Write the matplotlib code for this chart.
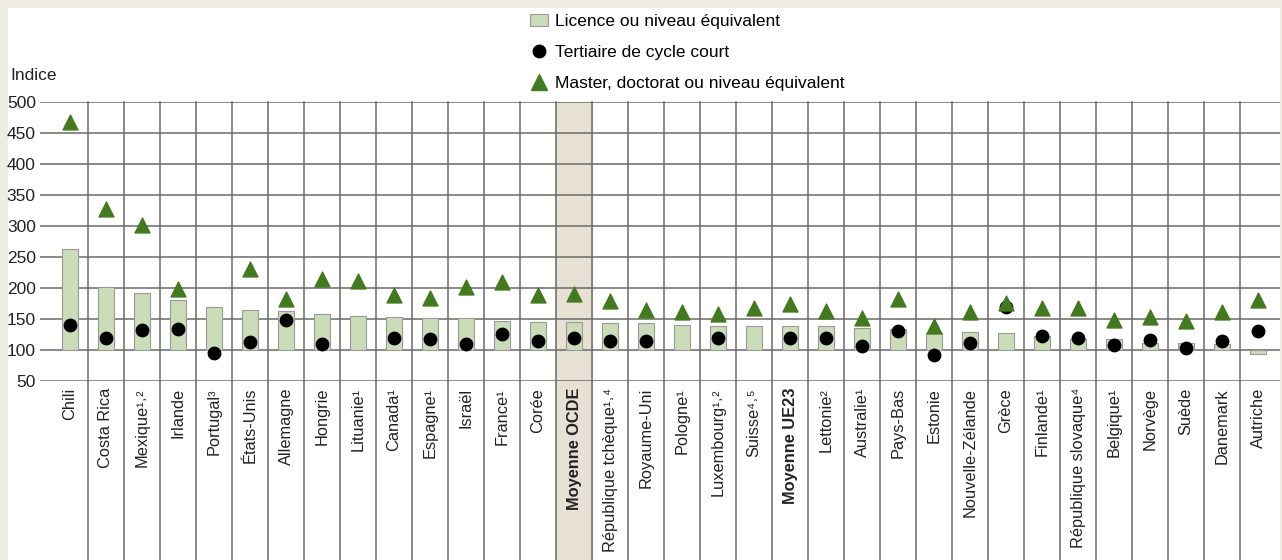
import matplotlib
matplotlib.use("Agg")
import matplotlib.pyplot as plt
from matplotlib.lines import Line2D
from matplotlib.patches import Patch

plt.rcParams['font.family'] = ['Liberation Sans Narrow', 'Liberation Sans', 'DejaVu Sans']
plt.rcParams['font.size'] = 12

# Data (indice, deuxième cycle du secondaire = 100)
pays = ["Chili", "Costa Rica", "Mexique¹˒²", "Irlande", "Portugal³", "États-Unis",
        "Allemagne", "Hongrie", "Lituanie¹", "Canada¹", "Espagne¹", "Israël",
        "France¹", "Corée", "Moyenne OCDE", "République tchèque¹˒⁴", "Royaume-Uni",
        "Pologne¹", "Luxembourg¹˒²", "Suisse⁴˒⁵", "Moyenne UE23", "Lettonie²",
        "Australie¹", "Pays-Bas", "Estonie", "Nouvelle-Zélande", "Grèce",
        "Finlande¹", "République slovaque⁴", "Belgique¹", "Norvège", "Suède",
        "Danemark", "Autriche"]
licence = [263, 201, 192, 181, 169, 164, 163, 158, 155, 153, 152, 152,
           147, 145, 145, 143, 143, 140, 139, 139, 139, 138,
           136, 134, 127, 129, 128, 122, 118, 118, 112, 111, 110, 94]
cycle_court = [140, 119, 132, 134, 95, 113, 149, 110, None, 119, 117, 110,
               126, 115, 119, 114, 114, None, 120, None, 119, 119,
               107, 131, 92, 112, 170, 123, 119, 108, 116, 103, 115, 131]
master = [468, 328, 301, 199, None, 230, 182, 215, 211, 189, 184, 201,
          209, 188, 190, 179, 164, 161, 158, 167, 174, 163,
          152, 182, 139, 161, 176, 167, 168, 149, 153, 146, 161, 180]
bold_labels = ["Moyenne OCDE", "Moyenne UE23"]
highlight = "Moyenne OCDE"

bar_color = "#cadcb8"
tri_color = "#447a1f"
grid_color = "#6a6a6a"

fig = plt.figure(figsize=(12.82, 5.60), dpi=100, facecolor="#eeebe1")
# white panel
panel = plt.Rectangle((8 / 1282, 0), 1272 / 1282, 552 / 560,
                      transform=fig.transFigure, facecolor="white",
                      edgecolor="none", zorder=-10)
fig.patches.append(panel)

ax = fig.add_axes([40 / 1282, 179 / 560, 1240 / 1282, 279 / 560])
ax.set_facecolor("none")
x = list(range(len(pays)))
ext = -179 / 279

hi = pays.index(highlight)
ax.axvspan(hi - 0.5, hi + 0.5, ymin=ext, ymax=1, color="#e7e1d3", zorder=0, clip_on=False)

for i in x[:-1]:
    ax.axvline(i + 0.5, ymin=ext, ymax=1, color=grid_color, lw=1.1, zorder=1, clip_on=False)

ax.set_ylim(50, 500)
ax.set_xlim(-0.833, 33.61)
ax.set_yticks(range(50, 501, 50))
ax.yaxis.grid(True, color=grid_color, lw=1.1, zorder=1)
ax.set_axisbelow(True)
for s in ax.spines.values():
    s.set_visible(False)
ax.tick_params(axis="y", length=0, pad=3, labelsize=12.5, colors="#222222")

ax.bar(x, [v - 100 for v in licence], bottom=100, width=0.44, color=bar_color,
       edgecolor="#9a9a9a", lw=0.8, zorder=2)
cx = [i for i, v in zip(x, cycle_court) if v is not None]
cy = [v for v in cycle_court if v is not None]
ax.scatter(cx, cy, s=80, color="black", zorder=3)
mx = [i for i, v in zip(x, master) if v is not None]
my = [v for v in master if v is not None]
ax.scatter(mx, my, s=115, marker="^", color=tri_color, zorder=4)

ax.set_xticks(x)
ax.set_xticklabels(pays, rotation=90, fontsize=11.8, color="#222222")
ax.tick_params(axis="x", length=0, pad=5)
for lab in ax.get_xticklabels():
    if lab.get_text() in bold_labels:
        lab.set_fontweight("bold")

fig.text(10 / 1282, 1 - 75 / 560, "Indice", fontsize=12.5, va="center", ha="left", color="#222222")

handles = [Patch(facecolor=bar_color, edgecolor="#9a9a9a", lw=0.8),
           Line2D([], [], marker="o", color="black", ls="none", markersize=9),
           Line2D([], [], marker="^", color=tri_color, ls="none", markersize=11)]
fig.legend(handles, ["Licence ou niveau équivalent", "Tertiaire de cycle court",
                     "Master, doctorat ou niveau équivalent"],
           loc="upper left", bbox_to_anchor=(518 / 1282, 1 - 2 / 560), frameon=False,
           fontsize=12.5, handlelength=1.0, handletextpad=0.45, labelspacing=0.9,
           borderpad=0.2)

fig.savefig("out.png", dpi=100, facecolor=fig.get_facecolor())
